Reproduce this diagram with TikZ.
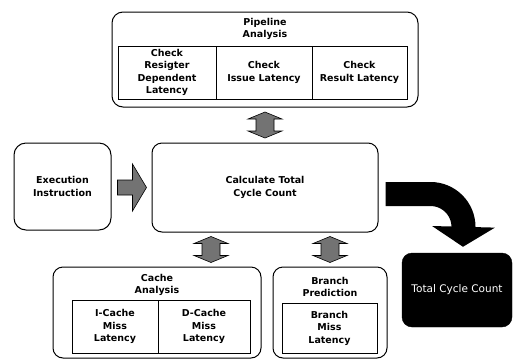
\documentclass[tikz,border=0pt]{standalone}
\usepackage{fontspec}
\setmainfont{DejaVu Sans}
\usetikzlibrary{calc,arrows.meta}

\begin{document}
\begin{tikzpicture}[x=1pt,y=-1pt,
  box/.style={draw, line width=1pt, rounded corners=11pt, inner sep=0pt},
  cell/.style={draw, line width=0.8pt, inner sep=0pt, align=center,
    font=\fontsize{9.5}{12.5}\selectfont\bfseries},
  lbl/.style={font=\fontsize{9.5}{12.5}\selectfont\bfseries, align=center, inner sep=0pt},
  blockarrow/.style={draw, fill=black!55, line width=0.6pt, line join=miter},
  dblarrow/.pic={
    \path[blockarrow] (0,-13) -- (17,-6) -- (9,-6) -- (9,6) -- (17,6) -- (0,13)
      -- (-17,6) -- (-9,6) -- (-9,-6) -- (-17,-6) -- cycle;},
  rgtarrow/.pic={
    \path[blockarrow] (0,0) -- (-14,-23.5) -- (-14,-7.5) -- (-29,-7.5)
      -- (-29,7.5) -- (-14,7.5) -- (-14,23.5) -- cycle;},
]
\useasboundingbox (0,0) rectangle (515,360);

% pipeline analysis block
\node[box, minimum width=306pt, minimum height=95pt] (pipe) at (265,59.5) {};
\node[lbl] (pipetitle) at (265,29) {Pipeline\\Analysis};
\node[cell, minimum width=98pt, minimum height=53pt] (regdep) at (167,72.5) {Check\\Resigter\\Dependent\\Latency};
\node[cell, minimum width=96pt, minimum height=53pt] (issue) at (264,72.5) {Check\\Issue Latency};
\node[cell, minimum width=95pt, minimum height=53pt] (result) at (359.5,72.5) {Check\\Result Latency};

% main row
\node[box, rounded corners=12pt, minimum width=97pt, minimum height=87pt] (exec) at (62.5,186.5) {};
\node[lbl] (exectext) at (exec.center) {Execution\\Instruction};
\node[box, rounded corners=10pt, minimum width=226pt, minimum height=89pt] (calc) at (265,187.5) {};
\node[lbl] (calctext) at (calc.center) {Calculate Total\\Cycle Count};
\node[draw, fill=black, rounded corners=10pt, minimum width=110pt, minimum height=74pt,
  text=white, font=\fontsize{10.5}{12}\selectfont] (total) at (457,290) {Total Cycle Count};

% cache analysis block
\node[box, rounded corners=10pt, minimum width=208pt, minimum height=91pt] (cache) at (157,312.5) {};
\node[lbl] (cachetitle) at (157,285) {Cache\\Analysis};
\node[cell, minimum width=86pt, minimum height=53pt] (icache) at (115,326.5) {I-Cache\\Miss\\Latency};
\node[cell, minimum width=92pt, minimum height=53pt] (dcache) at (204,326.5) {D-Cache\\Miss\\Latency};

% branch prediction block
\node[box, rounded corners=10pt, minimum width=114pt, minimum height=91pt] (branch) at (330,312.5) {};
\node[lbl] (branchtitle) at (330,287) {Branch\\Prediction};
\node[cell, minimum width=95pt, minimum height=50pt] (bmiss) at (329.5,328) {Branch\\Miss\\Latency};

% block arrows between the blocks
\coordinate (intip) at ([xshift=-5pt]calc.west);
\coordinate (pc) at ($(pipe.south)!.5!(calc.north)$);
\coordinate (cc) at ($(calc.south)!.5!(cache.north)$);
\coordinate (bc) at ($(calc.south -| branch.north)!.5!(branch.north)$);
\pic at (intip) {rgtarrow};
\pic at (pc) {dblarrow};
\pic at (cc) {dblarrow};
\pic at (bc) {dblarrow};

% result arrow
\draw[line width=24pt, -{Triangle[length=20pt,width=62pt]}]
  ([shift={(7,6.5)}]calc.east) -- ++(45,0)
  arc[start angle=-90, end angle=0, radius=33]
  -- ([shift={(6,-6)}]total.north);
\end{tikzpicture}
\end{document}
